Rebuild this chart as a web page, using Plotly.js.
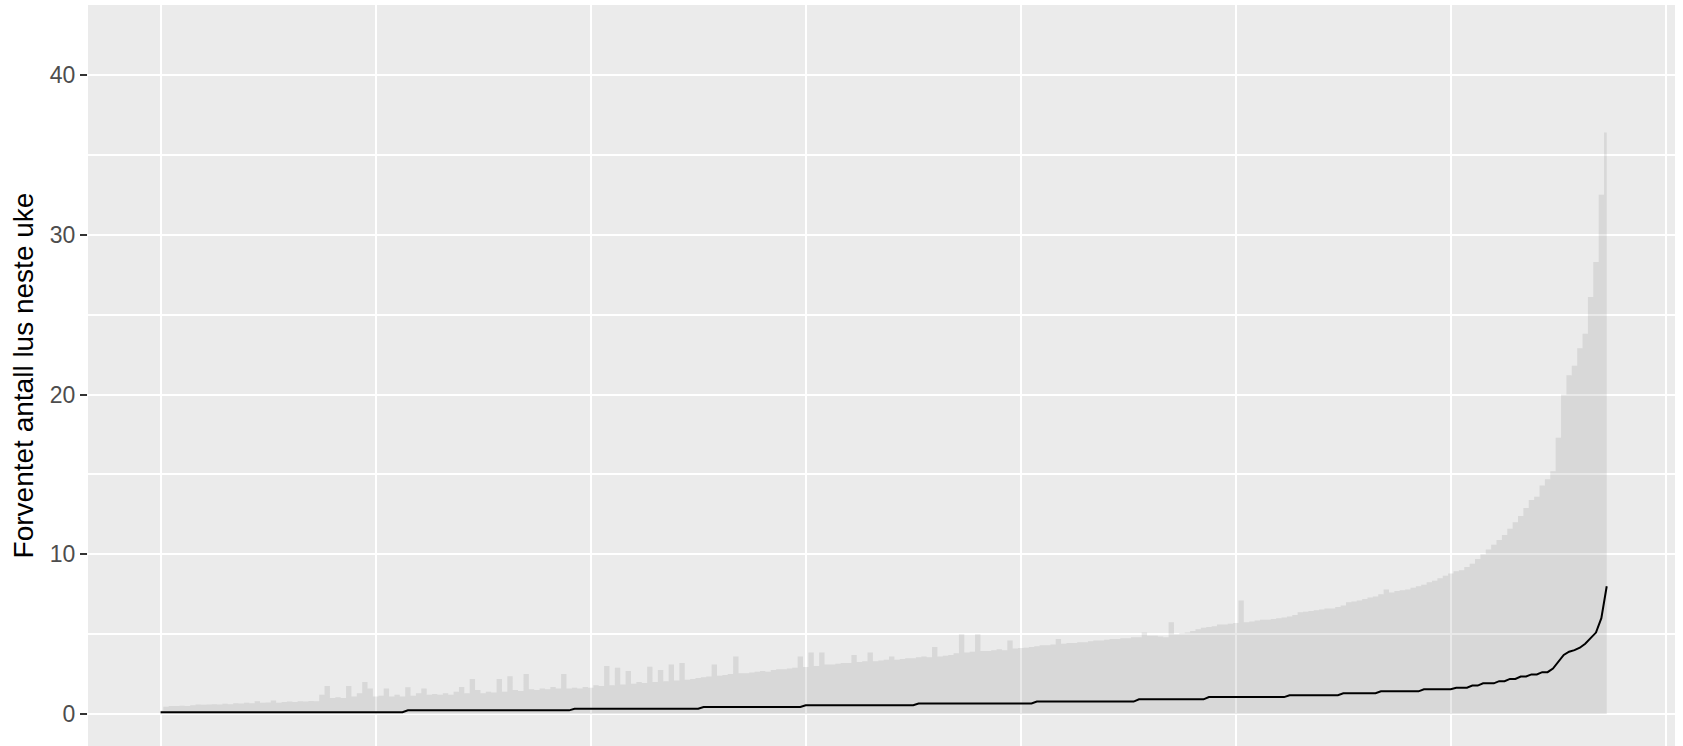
<!DOCTYPE html>
<html>
<head>
<meta charset="utf-8">
<script src="https://cdn.plot.ly/plotly-3.0.1.min.js"></script>
<style>
html,body{margin:0;padding:0;background:#fff;}
#chart{width:1683px;height:746px;}
</style>
</head>
<body>
<div id="chart"></div>
<script>
// Upper bound of the prediction band, sites sorted by expected lice count
const upper = [
0.2,0.45,0.5,0.5,0.52,0.5,0.55,0.6,0.58,0.6,
0.62,0.6,0.65,0.62,0.68,0.66,0.7,0.68,0.8,0.7,
0.72,0.85,0.7,0.75,0.78,0.76,0.8,0.78,0.82,0.8,
1.2,1.75,1.0,1.05,1.0,1.75,1.1,1.3,2.0,1.6,
1.1,1.15,1.6,1.1,1.2,1.1,1.67,1.15,1.3,1.6,
1.2,1.25,1.2,1.3,1.2,1.4,1.7,1.3,2.2,1.5,
1.3,1.4,1.35,2.2,1.4,2.37,1.5,1.45,2.5,1.55,
1.5,1.6,1.55,1.7,1.6,2.5,1.6,1.65,1.6,1.7,
1.65,1.8,1.75,3.0,1.8,2.9,1.85,2.7,1.9,2.0,
1.95,2.96,2.0,2.75,2.05,3.1,2.1,3.2,2.15,2.2,
2.25,2.3,2.35,3.1,2.4,2.45,2.5,3.6,2.55,2.55,
2.6,2.65,2.7,2.65,2.75,2.8,2.8,2.85,2.9,3.6,
2.95,3.86,3.0,3.86,3.1,3.1,3.15,3.2,3.2,3.7,
3.25,3.3,3.86,3.3,3.35,3.4,3.6,3.4,3.45,3.5,
3.5,3.55,3.6,3.55,4.2,3.6,3.65,3.7,3.8,5.0,
3.85,3.9,5.0,3.95,3.95,4.0,4.05,4.0,4.6,4.1,
4.13,4.15,4.2,4.25,4.3,4.3,4.35,4.7,4.4,4.45,
4.45,4.5,4.5,4.55,4.6,4.6,4.65,4.7,4.7,4.75,
4.75,4.8,4.8,5.1,4.9,4.9,4.85,4.8,5.74,5.0,
5.05,5.1,5.2,5.3,5.4,5.45,5.5,5.6,5.6,5.65,
5.7,7.1,5.75,5.8,5.85,5.9,5.9,5.95,6.0,6.05,
6.1,6.2,6.37,6.4,6.45,6.5,6.55,6.6,6.6,6.7,
6.8,7.0,7.05,7.1,7.2,7.3,7.35,7.5,7.8,7.6,
7.7,7.75,7.8,7.9,8.0,8.1,8.25,8.35,8.5,8.65,
8.8,8.94,9.0,9.2,9.4,9.7,10.0,10.3,10.6,10.9,
11.2,11.6,12.0,12.4,12.9,13.4,13.6,14.3,14.7,15.2,
17.3,20.0,21.2,21.8,22.9,23.8,26.1,28.3,32.5,36.4
];

// Expected (median) lice count next week
const median = [
0.12,0.12,0.12,0.12,0.12,0.12,0.12,0.12,0.12,0.12,
0.12,0.12,0.12,0.12,0.12,0.12,0.12,0.12,0.12,0.12,
0.12,0.12,0.12,0.12,0.12,0.12,0.12,0.12,0.12,0.12,
0.12,0.12,0.12,0.12,0.12,0.12,0.12,0.12,0.12,0.12,
0.12,0.12,0.12,0.12,0.12,0.12,0.23,0.23,0.23,0.23,
0.23,0.23,0.23,0.23,0.23,0.23,0.23,0.23,0.23,0.23,
0.23,0.23,0.23,0.23,0.23,0.23,0.23,0.23,0.23,0.23,
0.23,0.23,0.23,0.23,0.23,0.23,0.23,0.33,0.33,0.33,
0.33,0.33,0.33,0.33,0.33,0.33,0.33,0.33,0.33,0.33,
0.33,0.33,0.33,0.33,0.33,0.33,0.33,0.33,0.33,0.33,
0.33,0.44,0.44,0.44,0.44,0.44,0.44,0.44,0.44,0.44,
0.44,0.44,0.44,0.44,0.44,0.44,0.44,0.44,0.44,0.44,
0.55,0.55,0.55,0.55,0.55,0.55,0.55,0.55,0.55,0.55,
0.55,0.55,0.55,0.55,0.55,0.55,0.55,0.55,0.55,0.55,
0.55,0.66,0.66,0.66,0.66,0.66,0.66,0.66,0.66,0.66,
0.66,0.66,0.66,0.66,0.66,0.66,0.66,0.66,0.66,0.66,
0.66,0.66,0.66,0.78,0.78,0.78,0.78,0.78,0.78,0.78,
0.78,0.78,0.78,0.78,0.78,0.78,0.78,0.78,0.78,0.78,
0.78,0.78,0.92,0.92,0.92,0.92,0.92,0.92,0.92,0.92,
0.92,0.92,0.92,0.92,0.92,1.06,1.06,1.06,1.06,1.06,
1.06,1.06,1.06,1.06,1.06,1.06,1.06,1.06,1.06,1.06,
1.18,1.18,1.18,1.18,1.18,1.18,1.18,1.18,1.18,1.18,
1.3,1.3,1.3,1.3,1.3,1.3,1.3,1.42,1.42,1.42,
1.42,1.42,1.42,1.42,1.42,1.55,1.55,1.55,1.55,1.55,
1.55,1.65,1.65,1.65,1.78,1.78,1.92,1.92,1.92,2.06,
2.06,2.2,2.2,2.35,2.35,2.48,2.48,2.62,2.62,2.85,
3.3,3.7,3.9,4.0,4.15,4.4,4.75,5.1,6.0,8.0
];

const yTickVals = [0, 10, 20, 30, 40];
const yTickText = ["0", "10", "20", "30", "40"];
const yTitle = "Forventet antall lus neste uke";

// site rank (1..N) along the x axis
const rank = upper.map((_, i) => i + 1);

const traces = [
  {
    x: rank, y: upper, type: "scatter", mode: "lines",
    line: {width: 0, shape: "hvh", color: "rgba(140,140,140,0)"},
    fill: "tozeroy", fillcolor: "rgba(140,140,140,0.19)",
    hoverinfo: "skip", showlegend: false
  },
  {
    x: rank, y: median, type: "scatter", mode: "lines",
    line: {width: 2, color: "#000000", shape: "linear"},
    showlegend: false
  }
];

const layout = {
  width: 1683, height: 746,
  margin: {l: 88, r: 8, t: 5, b: 0, pad: 0},
  paper_bgcolor: "#FFFFFF",
  plot_bgcolor: "#EBEBEB",
  showlegend: false,
  xaxis: {
    range: [-12.5, 282.7],
    tick0: 1, dtick: 40, tickmode: "linear",
    showticklabels: false, ticks: "",
    showgrid: true, gridcolor: "#FFFFFF", gridwidth: 2,
    zeroline: false, showline: false, fixedrange: true
  },
  yaxis: {
    range: [-2.0, 44.38],
    tickmode: "array", tickvals: yTickVals, ticktext: yTickText,
    ticks: "outside", ticklen: 7, tickwidth: 2, tickcolor: "#333333",
    tickfont: {family: "Liberation Sans, Arial, sans-serif", size: 23, color: "#4D4D4D"},
    showgrid: true, gridcolor: "#FFFFFF", gridwidth: 2,
    minor: {dtick: 5, tick0: 0, showgrid: true, gridcolor: "#FFFFFF", gridwidth: 2, ticks: ""},
    zeroline: false, showline: false, fixedrange: true,
    title: {text: yTitle, font: {family: "Liberation Sans, Arial, sans-serif", size: 28, color: "#000000"}, standoff: 8}
  }
};

Plotly.newPlot("chart", traces, layout, {staticPlot: true, displayModeBar: false});
</script>
</body>
</html>
